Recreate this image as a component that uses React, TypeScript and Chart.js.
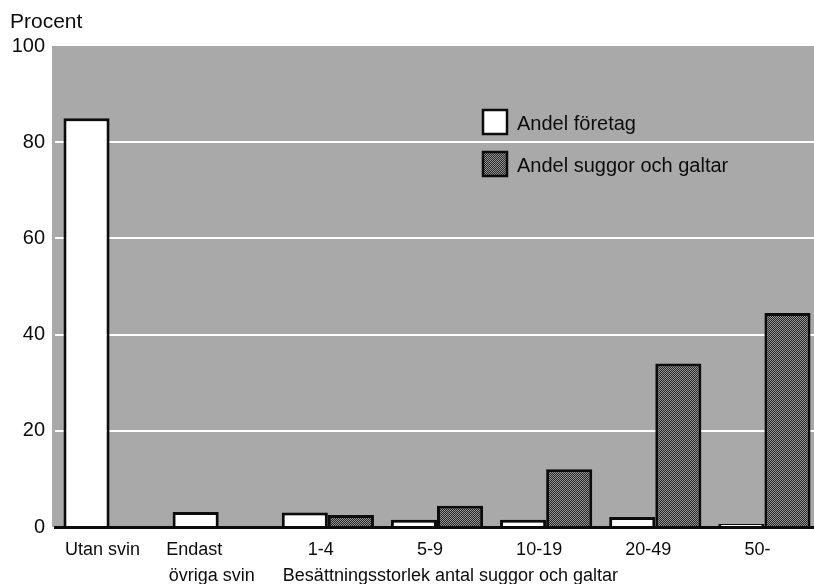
import { useEffect, useRef } from "react";
import { Chart, registerables } from "chart.js";

Chart.register(...registerables);

const categories: (string | string[])[] = [
  "Utan svin",
  ["Endast       ", "övriga svin"],
  "1-4",
  "5-9",
  "10-19",
  "20-49",
  "50-",
];
const andelForetag: (number | null)[] = [85, 3.1, 3.0, 1.5, 1.5, 2.1, 0.6];
const andelSuggor: (number | null)[] = [null, null, 2.5, 4.4, 12, 34, 44.5];
const seriesNames = ["Andel företag", "Andel suggor och galtar"];
const yTitle = "Procent";
const xTitle = "Besättningsstorlek antal suggor och galtar";
const yMin = 0;
const yMax = 100;
const yStep = 20;

const FONT = '"Liberation Sans", Arial, Helvetica, sans-serif';
const INK = "#0c0c0c";
const PLOT_GRAY = "#a9a9a9";

export default function App() {
  const canvasRef = useRef<HTMLCanvasElement | null>(null);

  useEffect(() => {
    document.body.style.margin = "0";
    const canvas = canvasRef.current;
    if (!canvas) return;
    const ctx0 = canvas.getContext("2d")!;

    const pc = document.createElement("canvas");
    pc.width = 2;
    pc.height = 2;
    const pg = pc.getContext("2d")!;
    pg.fillStyle = "#262626";
    pg.fillRect(0, 0, 2, 2);
    pg.fillStyle = "#959595";
    pg.fillRect(0, 0, 1, 1);
    pg.fillRect(1, 1, 1, 1);
    const hatch = ctx0.createPattern(pc, "repeat")!;

    const decor = {
      id: "decor",
      beforeDraw(chart: any) {
        const { ctx, chartArea } = chart;
        ctx.save();
        ctx.fillStyle = PLOT_GRAY;
        ctx.fillRect(chartArea.left - 3, chartArea.top, chartArea.right - chartArea.left + 3, chartArea.bottom - chartArea.top);
        ctx.restore();
      },
      afterDraw(chart: any) {
        const { ctx, chartArea, scales } = chart;
        ctx.save();
        // y title
        ctx.fillStyle = INK;
        ctx.font = `21px ${FONT}`;
        ctx.textAlign = "left";
        ctx.textBaseline = "alphabetic";
        ctx.fillText(yTitle, 10, chartArea.top - 18);
        // x title
        ctx.font = `18px ${FONT}`;
        ctx.textBaseline = "middle";
        ctx.fillText(xTitle, scales.x.getPixelForValue(2) - 45, chartArea.bottom + 49);
        // legend
        const lx = chartArea.left + 428;
        const fills = ["#ffffff", hatch];
        seriesNames.forEach((name, i) => {
          const y = chartArea.top + 64 + i * 42;
          ctx.fillStyle = fills[i];
          ctx.fillRect(lx, y, 24, 24);
          ctx.lineWidth = 2.5;
          ctx.strokeStyle = INK;
          ctx.strokeRect(lx, y, 24, 24);
          ctx.fillStyle = INK;
          ctx.font = `20px ${FONT}`;
          ctx.textAlign = "left";
          ctx.textBaseline = "middle";
          ctx.fillText(name, lx + 34, y + 14);
        });
        ctx.restore();
      },
    };

    const chart = new Chart(canvas, {
      type: "bar",
      data: {
        labels: categories,
        datasets: [
          {
            label: seriesNames[0],
            data: andelForetag,
            backgroundColor: "#ffffff",
            borderColor: INK,
            borderWidth: 3,
            categoryPercentage: 0.845,
            barPercentage: 1,
          },
          {
            label: seriesNames[1],
            data: andelSuggor,
            backgroundColor: hatch,
            borderColor: INK,
            borderWidth: 3,
            categoryPercentage: 0.845,
            barPercentage: 1,
          },
        ],
      },
      options: {
        animation: false,
        responsive: false,
        maintainAspectRatio: false,
        layout: { padding: { top: 46, left: 0, right: 0, bottom: 0 } },
        plugins: {
          legend: { display: false },
          tooltip: { enabled: false },
          title: { display: false },
        },
        scales: {
          x: {
            grid: { display: false, drawTicks: false },
            border: { display: true, color: INK, width: 3 },
            ticks: {
              color: INK,
              font: { family: FONT, size: 18, lineHeight: 1.44 },
              padding: 10,
              labelOffset: -7,
              maxRotation: 0,
              autoSkip: false,
            },
            afterFit(scale: any) {
              scale.height = 57;
            },
          },
          y: {
            min: yMin,
            max: yMax,
            ticks: {
              stepSize: yStep,
              color: INK,
              font: { family: FONT, size: 20 },
              padding: 10,
            },
            grid: {
              drawTicks: false,
              lineWidth: 2,
              color: (c: any) =>
                c.tick && c.tick.value > yMin && c.tick.value < yMax ? "#ffffff" : "rgba(0,0,0,0)",
            },
            border: { display: false },
            afterFit(scale: any) {
              scale.width = 55;
            },
          },
        },
      },
      plugins: [decor],
    });

    return () => chart.destroy();
  }, []);

  return (
    <div style={{ width: 814, height: 584, overflow: "hidden" }}>
      <canvas ref={canvasRef} width={819} height={584} style={{ display: "block", width: 819, height: 584 }} />
    </div>
  );
}
